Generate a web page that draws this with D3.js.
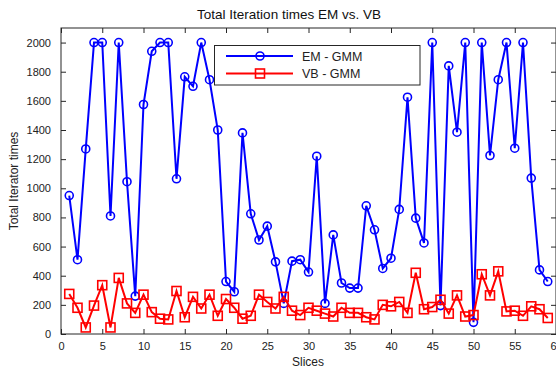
<!DOCTYPE html>
<html><head><meta charset="utf-8">
<script src="https://cdn.jsdelivr.net/npm/d3@7/dist/d3.min.js"></script>
<style>body{margin:0;background:#fff}svg{display:block}text{font-family:"Liberation Sans",Arial,sans-serif}</style>
</head><body><svg id="c" width="556" height="371"></svg>
<script>
const slices = d3.range(1, 60);
const emValues = [950,510,1270,2000,2000,810,2000,1045,260,1575,1940,2000,2000,1065,1765,1700,2000,1745,1400,360,
  290,1380,825,645,740,495,210,500,510,425,1220,210,680,350,315,315,880,715,450,520,
  855,1625,795,625,2000,195,1840,1385,2000,80,2000,1225,1745,2000,1275,2000,1070,440,360];
const vbValues = [275,180,45,195,335,45,385,210,145,270,150,105,100,295,115,255,175,270,125,240,
  180,105,125,270,220,175,255,160,130,180,160,140,120,180,145,145,115,100,200,190,
  220,145,420,170,185,235,140,265,120,130,410,265,430,155,160,125,190,170,110];
const xTicks = d3.range(0, 61, 5);
const yTicks = d3.range(0, 2001, 200);
const seriesNames = ["EM - GMM", "VB - GMM"];

const svg = d3.select("#c");
const L = 61, R = 556, T = 28, B = 334;
const x = d3.scaleLinear().domain([0, 60]).range([L, R]);
const y = d3.scaleLinear().domain([0, 2100]).range([B, T]);
const axisColor = "#262626";

// frame
svg.append("rect").attr("x", L).attr("y", T).attr("width", R - L).attr("height", B - T)
  .attr("fill", "none").attr("stroke", axisColor).attr("stroke-width", 1);

const fmt = d3.format("d");
const gx = svg.append("g").attr("transform", `translate(0,${B})`)
  .call(d3.axisBottom(x).tickValues(xTicks).tickSize(-5).tickPadding(8).tickFormat(fmt));
const gxt = svg.append("g").attr("transform", `translate(0,${T})`)
  .call(d3.axisTop(x).tickValues(xTicks).tickSize(-5).tickFormat(""));
const gy = svg.append("g").attr("transform", `translate(${L},0)`)
  .call(d3.axisLeft(y).tickValues(yTicks).tickSize(-5).tickPadding(10).tickFormat(fmt));
const gyr = svg.append("g").attr("transform", `translate(${R},0)`)
  .call(d3.axisRight(y).tickValues(yTicks).tickSize(-5).tickFormat(""));
[gx, gxt, gy, gyr].forEach(g => {
  g.select(".domain").remove();
  g.selectAll("line").attr("stroke", axisColor);
  g.selectAll("text").attr("fill", "#222").style("font-size", "11px")
   .style("font-family", '"Liberation Sans",Arial,sans-serif');
});

const clip = svg.append("clipPath").attr("id", "pc").append("rect")
  .attr("x", L - 6).attr("y", T - 6).attr("width", R - L + 12).attr("height", B - T + 12);

const line = d3.line().x((d, i) => x(slices[i])).y(d => y(d));
const plot = svg.append("g");

// EM
plot.append("path").datum(emValues).attr("d", line).attr("fill", "none")
  .attr("stroke", "#0000ff").attr("stroke-width", 2);
plot.selectAll(".em").data(emValues).enter().append("circle")
  .attr("cx", (d, i) => x(slices[i])).attr("cy", d => y(d)).attr("r", 4)
  .attr("fill", "none").attr("stroke", "#0000ff").attr("stroke-width", 1.6);
// VB
plot.append("path").datum(vbValues).attr("d", line).attr("fill", "none")
  .attr("stroke", "#ff0000").attr("stroke-width", 2);
plot.selectAll(".vb").data(vbValues).enter().append("rect")
  .attr("x", (d, i) => x(slices[i]) - 4.5).attr("y", d => y(d) - 4.5)
  .attr("width", 9).attr("height", 9)
  .attr("fill", "none").attr("stroke", "#ff0000").attr("stroke-width", 1.6);

// Title & labels
svg.append("text").attr("x", 289).attr("y", 19).attr("text-anchor", "middle")
  .style("font-size", "13.5px").attr("fill", "#111").text("Total Iteration times EM vs. VB");
svg.append("text").attr("x", 308).attr("y", 366).attr("text-anchor", "middle")
  .style("font-size", "12px").attr("fill", "#222").text("Slices");
svg.append("text").attr("transform", `translate(18,${(T + B) / 2}) rotate(-90)`)
  .attr("text-anchor", "middle").style("font-size", "12px").attr("fill", "#222")
  .text("Total Iterator times");

// Legend
const lg = svg.append("g");
lg.append("rect").attr("x", 214.5).attr("y", 45.5).attr("width", 205.5).attr("height", 39.5)
  .attr("fill", "#fff").attr("stroke", axisColor).attr("stroke-width", 1);
const rows = [{name: seriesNames[0], c: "#0000ff", m: "circle", yy: 56},
              {name: seriesNames[1], c: "#ff0000", m: "square", yy: 73.5}];
rows.forEach(r => {
  lg.append("line").attr("x1", 226).attr("x2", 293).attr("y1", r.yy).attr("y2", r.yy)
    .attr("stroke", r.c).attr("stroke-width", 2);
  if (r.m === "circle") lg.append("circle").attr("cx", 260).attr("cy", r.yy).attr("r", 4)
    .attr("fill", "none").attr("stroke", r.c).attr("stroke-width", 1.6);
  else lg.append("rect").attr("x", 255.5).attr("y", r.yy - 4.5).attr("width", 9).attr("height", 9)
    .attr("fill", "none").attr("stroke", r.c).attr("stroke-width", 1.6);
  lg.append("text").attr("x", 302).attr("y", r.yy + 4.5).style("font-size", "12.5px")
    .attr("fill", "#222").text(r.name);
});
</script></body></html>
